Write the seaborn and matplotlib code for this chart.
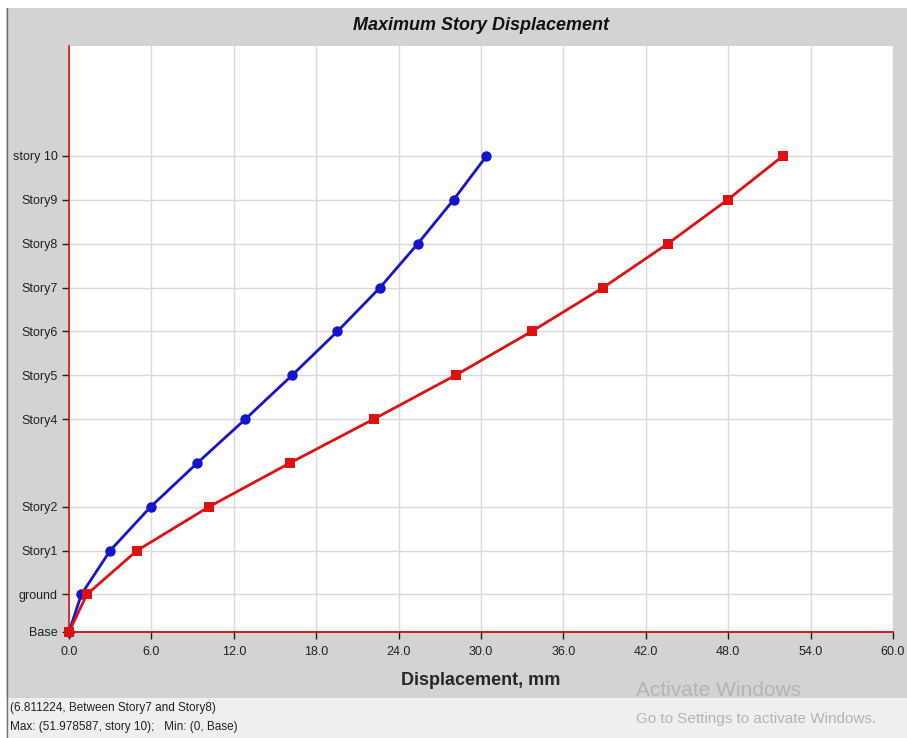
import numpy as np
import pandas as pd
import seaborn as sns
import matplotlib.pyplot as plt
from matplotlib.patches import Rectangle

# Story levels (elevation used as y-position) and labels
level_names = ['Base', 'ground', 'Story1', 'Story2', 'Story3', 'Story4', 'Story5',
               'Story6', 'Story7', 'Story8', 'Story9', 'story 10']
elevation = [0.0, 3.0, 6.5, 10.0, 13.5, 17.0, 20.5, 24.0, 27.5, 31.0, 34.5, 38.0]

# Displacements (mm)
disp_blue = [0.0, 0.9, 3.0, 5.95, 9.35, 12.85, 16.25, 19.55, 22.65, 25.4, 28.0, 30.4]
disp_red = [0.0, 1.3, 4.95, 10.2, 16.1, 22.2, 28.15, 33.7, 38.9, 43.6, 47.95, 51.98]

# Only these levels carry a tick label / gridline
tick_levels = ['Base', 'ground', 'Story1', 'Story2', 'Story4', 'Story5',
               'Story6', 'Story7', 'Story8', 'Story9', 'story 10']
x_ticks = [0, 6, 12, 18, 24, 30, 36, 42, 48, 54, 60]

data = pd.DataFrame({
    'level': level_names * 2,
    'elev': elevation * 2,
    'disp': disp_blue + disp_red,
    'series': ['blue'] * len(disp_blue) + ['red'] * len(disp_red),
})

sns.set_style('white')
plt.rcParams['font.family'] = ['Liberation Sans Narrow', 'Liberation Sans', 'DejaVu Sans']

W, H = 907, 738
fig = plt.figure(figsize=(W / 100, H / 100), dpi=100)
fig.patch.set_facecolor('white')

# window-like background panels
fig.patches.append(Rectangle((6 / W, 1 - 698 / H), 1 - 6 / W, (698 - 8) / H,
                             transform=fig.transFigure, facecolor='#d3d3d3',
                             edgecolor='none', zorder=-10))
fig.patches.append(Rectangle((6 / W, 0), 1 - 6 / W, 1 - 698 / H,
                             transform=fig.transFigure, facecolor='#efefef',
                             edgecolor='none', zorder=-10))
fig.add_artist(plt.Line2D([6.5 / W, 6.5 / W], [0, 1 - 8 / H], color='#707070', lw=1,
                          transform=fig.transFigure, zorder=-5))

ax = fig.add_axes([69 / W, 1 - 632 / H, (893 - 69) / W, (632 - 46) / H])
ax.set_zorder(1)
ax.set_facecolor('white')

sns.lineplot(data=data, x='disp', y='elev', hue='series', style='series',
             palette={'blue': '#1414cc', 'red': '#e01010'},
             markers={'blue': 'o', 'red': 's'}, dashes=False,
             markersize=7.5, markeredgewidth=0, linewidth=2,
             sort=False, estimator=None, legend=False, ax=ax, zorder=3)
for line in ax.lines:
    line.set_clip_on(False)

ax.set_xlim(0, 60)
ax.set_ylim(0, 46.78)
ax.set_xticks(x_ticks)
ax.set_xticklabels([f'{v:.1f}' for v in x_ticks])
ax.set_yticks([elevation[level_names.index(n)] for n in tick_levels])
ax.set_yticklabels(tick_levels)

ax.grid(True, color='#d9d9d9', linewidth=1)
ax.set_axisbelow(True)
for side in ['top', 'right']:
    ax.spines[side].set_visible(False)
ax.spines['left'].set_color('#d01818')
ax.spines['bottom'].set_color('#d01818')
ax.spines['left'].set_linewidth(1.2)
ax.spines['bottom'].set_linewidth(1.4)
ax.tick_params(axis='both', which='both', length=5, width=1, color='#202020',
               labelsize=9, labelcolor='#202020', left=True, bottom=True)
ax.tick_params(axis='x', pad=5)
ax.tick_params(axis='y', pad=3)

ax.set_xlabel('Displacement, mm', fontsize=13, fontweight='bold', labelpad=10)
ax.set_ylabel('')

fig.text(481 / W, 1 - 25 / H, 'Maximum Story Displacement', ha='center', va='center',
         fontsize=13, fontweight='bold', fontstyle='italic', color='#111111')

fig.text(10 / W, 1 - 708 / H, '(6.811224, Between Story7 and Story8)', ha='left',
         va='center', fontsize=8.5, color='#202020')
fig.text(10 / W, 1 - 727 / H, 'Max: (51.978587, story 10);   Min: (0, Base)', ha='left',
         va='center', fontsize=8.5, color='#202020')

fig.text(636 / W, 1 - 690 / H, 'Activate Windows', ha='left', va='center',
         fontsize=15, color='#b4b4b4')
fig.text(636 / W, 1 - 719 / H, 'Go to Settings to activate Windows.', ha='left',
         va='center', fontsize=11, color='#b4b4b4')

fig.savefig('out.png', dpi=100)
